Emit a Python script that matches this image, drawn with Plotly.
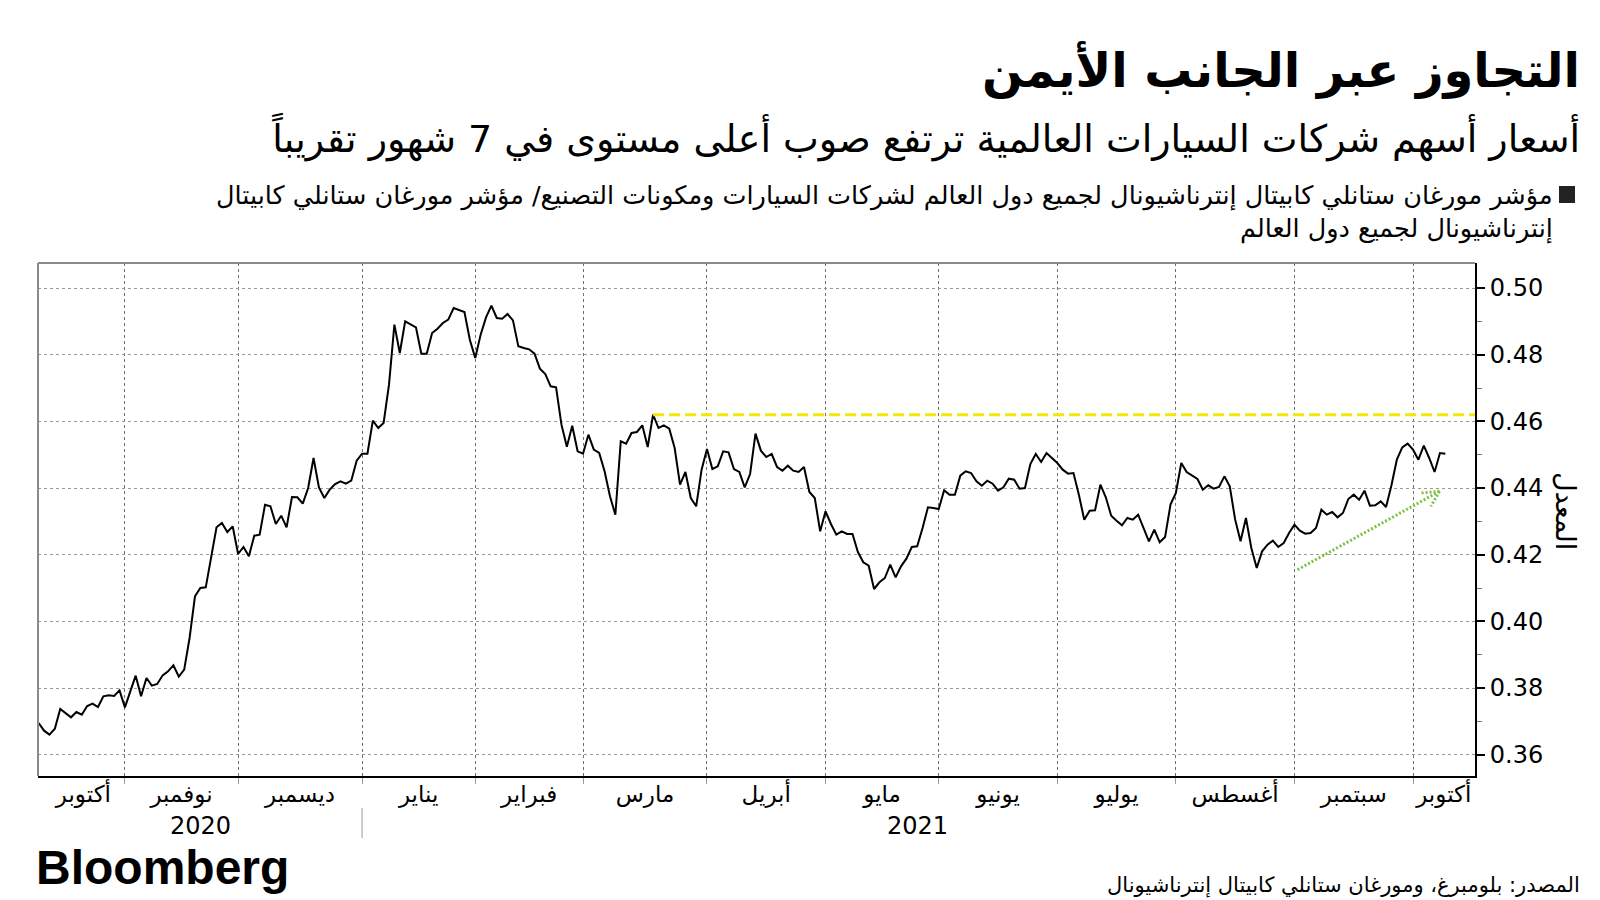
import plotly.graph_objects as go
import pandas as pd

# ---------------- data ----------------
START_DATE = "2020-10-09"  # first trading day shown; one value per weekday

ratio = [
    0.3695, 0.3672, 0.3660, 0.3678, 0.3737, 0.3725, 0.3712, 0.3728, 0.3720, 0.3746,
    0.3753, 0.3743, 0.3775, 0.3778, 0.3776, 0.3793, 0.3742, 0.3790, 0.3837, 0.3775,
    0.3830, 0.3807, 0.3812, 0.3838, 0.3850, 0.3868, 0.3834, 0.3855, 0.3950, 0.4075,
    0.4100, 0.4102, 0.4190, 0.4282, 0.4295, 0.4268, 0.4285, 0.4202, 0.4223, 0.4195,
    0.4257, 0.4260, 0.4350, 0.4345, 0.4292, 0.4317, 0.4282, 0.4373, 0.4372, 0.4353,
    0.4400, 0.4490, 0.4402, 0.4370, 0.4395, 0.4412, 0.4420, 0.4413, 0.4422, 0.4482,
    0.4503, 0.4503, 0.4602, 0.4580, 0.4595, 0.4710, 0.4890, 0.4805, 0.4900, 0.4892,
    0.4882, 0.4803, 0.4803, 0.4865, 0.4878, 0.4895, 0.4905, 0.4940, 0.4935, 0.4928,
    0.4845, 0.4790, 0.4860, 0.4912, 0.4947, 0.4910, 0.4908, 0.4922, 0.4903, 0.4825,
    0.4820, 0.4816, 0.4803, 0.4758, 0.4742, 0.4705, 0.4702, 0.4590, 0.4524, 0.4587,
    0.4510, 0.4503, 0.4560, 0.4515, 0.4505, 0.4450, 0.4375, 0.4320, 0.4540, 0.4533,
    0.4565, 0.4568, 0.4588, 0.4523, 0.4620, 0.4580, 0.4588, 0.4578, 0.4520, 0.4410,
    0.4448, 0.4370, 0.4345, 0.4455, 0.4517, 0.4457, 0.4465, 0.4510, 0.4507, 0.4457,
    0.4448, 0.4402, 0.4442, 0.4563, 0.4512, 0.4493, 0.4502, 0.4463, 0.4452, 0.4467,
    0.4452, 0.4448, 0.4463, 0.4388, 0.4370, 0.4270, 0.4330, 0.4292, 0.4260, 0.4270,
    0.4262, 0.4262, 0.4208, 0.4177, 0.4167, 0.4097, 0.4117, 0.4130, 0.4170, 0.4132,
    0.4165, 0.4188, 0.4223, 0.4225, 0.4280, 0.4342, 0.4340, 0.4337, 0.4393, 0.4380,
    0.4380, 0.4437, 0.4450, 0.4445, 0.4420, 0.4407, 0.4422, 0.4413, 0.4392, 0.4402,
    0.4428, 0.4425, 0.4398, 0.4400, 0.4472, 0.4502, 0.4478, 0.4505, 0.4490, 0.4475,
    0.4455, 0.4443, 0.4445, 0.4380, 0.4305, 0.4332, 0.4333, 0.4410, 0.4372, 0.4317,
    0.4302, 0.4288, 0.4310, 0.4305, 0.4320, 0.4280, 0.4240, 0.4275, 0.4237, 0.4253,
    0.4350, 0.4385, 0.4475, 0.4448, 0.4437, 0.4427, 0.4395, 0.4408, 0.4398, 0.4403,
    0.4435, 0.4405, 0.4305, 0.4240, 0.4310, 0.4220, 0.4160, 0.4210, 0.4230, 0.4242,
    0.4223, 0.4235, 0.4265, 0.4290, 0.4272, 0.4263, 0.4265, 0.4280, 0.4335, 0.4320,
    0.4328, 0.4312, 0.4325, 0.4367, 0.4380, 0.4365, 0.4392, 0.4347, 0.4348, 0.4360,
    0.4343, 0.4408, 0.4485, 0.4522, 0.4533, 0.4515, 0.4485, 0.4527, 0.4490, 0.4448,
    0.4505, 0.4503,
]

MONTH_STARTS = [
    "2020-11-02", "2020-12-01", "2021-01-01", "2021-02-01", "2021-03-01", "2021-04-01",
    "2021-05-03", "2021-06-01", "2021-07-01", "2021-08-02", "2021-09-01", "2021-10-01",
]
MONTH_LABEL_POS = [
    "2020-10-21 07:00", "2020-11-16 12:00", "2020-12-16 12:00", "2021-01-15 12:00",
    "2021-02-15", "2021-03-16 12:00", "2021-04-16", "2021-05-17 12:00", "2021-06-16",
    "2021-07-16", "2021-08-17", "2021-09-16", "2021-10-08 17:00",
]
MONTH_LABELS = [
    "أكتوبر", "نوفمبر", "ديسمبر", "يناير", "فبراير", "مارس", "أبريل",
    "مايو", "يونيو", "يوليو", "أغسطس", "سبتمبر", "أكتوبر",
]
YEAR_LABELS = ["2020", "2021"]
YEAR_SPLIT = "2021-01-01"
Y_TICKS = [0.36, 0.38, 0.40, 0.42, 0.44, 0.46, 0.48, 0.50]

RESISTANCE_LEVEL = 0.462
RESISTANCE_START = "2021-03-18"
TREND_START = ("2021-09-01 14:00", 0.4155)
TREND_END = ("2021-10-07 22:00", 0.4390)
TREND_HEAD_A = ("2021-10-04 12:00", 0.4385)
TREND_HEAD_B = ("2021-10-06 07:00", 0.4345)

TITLE = "التجاوز عبر الجانب الأيمن"
SUBTITLE = "أسعار أسهم شركات السيارات العالمية ترتفع صوب أعلى مستوى في 7 شهور تقريباً"
LEGEND_1 = "مؤشر مورغان ستانلي كابيتال إنترناشيونال لجميع دول العالم لشركات السيارات ومكونات التصنيع/ مؤشر مورغان ستانلي كابيتال"
LEGEND_2 = "إنترناشيونال لجميع دول العالم"
Y_TITLE = "المعدل"
SOURCE = "المصدر: بلومبرغ، ومورغان ستانلي كابيتال إنترناشيونال"

X_RANGE = ["2020-10-08 21:00", "2021-10-18 12:00"]
Y_RANGE = [0.3536, 0.5075]

# ---------------- layout helpers ----------------
W, H = 1600, 900
ML, MR, MT, MB = 30, 133, 255, 132
PW, PH = W - ML - MR, H - MT - MB


def px(x):
    return (x - ML) / PW


def py(y):
    return (H - MB - y) / PH


AR = "DejaVu Sans"
dates = pd.bdate_range(START_DATE, periods=len(ratio))

fig = go.Figure()
fig.add_trace(go.Scatter(
    x=dates, y=ratio, mode="lines",
    line=dict(color="#000000", width=2),
    showlegend=False, hoverinfo="skip",
))

GREEN = "#7DC242"
shapes = [
    # gray frame top / left
    dict(type="line", xref="paper", yref="paper", x0=0, x1=1, y0=1, y1=1,
         line=dict(color="#8a8a8a", width=2)),
    dict(type="line", xref="paper", yref="paper", x0=0, x1=0, y0=0, y1=1,
         line=dict(color="#8a8a8a", width=2)),
    # year separator
    dict(type="line", xref="x", yref="paper", x0=YEAR_SPLIT, x1=YEAR_SPLIT,
         y0=py(800), y1=py(830), line=dict(color="#9a9a9a", width=1)),
    # resistance line
    dict(type="line", xref="x", yref="y", x0=RESISTANCE_START, x1=X_RANGE[1],
         y0=RESISTANCE_LEVEL, y1=RESISTANCE_LEVEL,
         line=dict(color="#F4E800", width=3, dash="11px,5px")),
    # trend arrow
    dict(type="line", xref="x", yref="y", x0=TREND_START[0], y0=TREND_START[1],
         x1=TREND_END[0], y1=TREND_END[1],
         line=dict(color=GREEN, width=3, dash="2px,2px")),
    dict(type="line", xref="x", yref="y", x0=TREND_END[0], y0=TREND_END[1],
         x1=TREND_HEAD_A[0], y1=TREND_HEAD_A[1],
         line=dict(color=GREEN, width=3, dash="2px,2px")),
    dict(type="line", xref="x", yref="y", x0=TREND_END[0], y0=TREND_END[1],
         x1=TREND_HEAD_B[0], y1=TREND_HEAD_B[1],
         line=dict(color=GREEN, width=3, dash="2px,2px")),
    # legend square
    dict(type="rect", xref="paper", yref="paper", x0=px(1551), x1=px(1567),
         y0=py(195), y1=py(178), fillcolor="#222222", line=dict(width=0)),
]

annotations = [
    dict(text=TITLE, x=px(1574), y=py(62), xanchor="right", yanchor="middle",
         font=dict(family=AR, size=48, color="#000000", weight=700)),
    dict(text=SUBTITLE, x=px(1574), y=py(129), xanchor="right", yanchor="middle",
         font=dict(family=AR, size=38, color="#000000")),
    dict(text=LEGEND_1, x=px(1547), y=py(187), xanchor="right", yanchor="middle",
         font=dict(family=AR, size=25.5, color="#000000")),
    dict(text=LEGEND_2, x=px(1547), y=py(220), xanchor="right", yanchor="middle",
         font=dict(family=AR, size=25.5, color="#000000")),
    dict(text=Y_TITLE, x=px(1558), y=py(503), xanchor="center", yanchor="middle",
         textangle=90, font=dict(family=AR, size=27, color="#000000")),
    dict(text=YEAR_LABELS[0], x=px(192), y=py(818), xanchor="center", yanchor="middle",
         font=dict(family=AR, size=24, color="#000000")),
    dict(text=YEAR_LABELS[1], x=px(910), y=py(818), xanchor="center", yanchor="middle",
         font=dict(family=AR, size=24, color="#000000")),
    dict(text="Bloomberg", x=px(26), y=py(859), xanchor="left", yanchor="middle",
         font=dict(family="Liberation Sans", size=48, color="#000000", weight=700)),
    dict(text=SOURCE, x=px(1574), y=py(877), xanchor="right", yanchor="middle",
         font=dict(family=AR, size=21, color="#000000")),
]
for a in annotations:
    a.update(xref="paper", yref="paper", showarrow=False)

fig.update_layout(
    width=W, height=H,
    margin=dict(l=ML, r=MR, t=MT, b=MB, pad=0),
    paper_bgcolor="#ffffff", plot_bgcolor="#ffffff",
    shapes=shapes, annotations=annotations,
    showlegend=False,
    xaxis=dict(
        type="date", range=X_RANGE,
        rangebreaks=[dict(bounds=["sat", "mon"])],
        tickmode="array", tickvals=MONTH_LABEL_POS, ticktext=MONTH_LABELS,
        ticks="", showgrid=False, zeroline=False,
        showline=True, linecolor="#000000", linewidth=2,
        tickfont=dict(family=AR, size=23, color="#000000"),
        ticklabelstandoff=-4,
        minor=dict(tickmode="array", tickvals=MONTH_STARTS, showgrid=True,
                   gridcolor="#6f6f6f", griddash="dot", gridwidth=1,
                   ticks="outside", ticklen=6, tickcolor="#9a9a9a", tickwidth=1),
    ),
    yaxis=dict(
        side="right", range=Y_RANGE,
        tickmode="array", tickvals=Y_TICKS, tickformat=".2f",
        ticks="outside", ticklen=8, tickwidth=2, tickcolor="#000000",
        showline=True, linecolor="#000000", linewidth=2,
        showgrid=True, gridcolor="#9a9a9a", griddash="dot", gridwidth=1,
        zeroline=False,
        tickfont=dict(family=AR, size=24, color="#000000"),
        minor=dict(dtick=0.01, tick0=0.35, ticks="outside", ticklen=5,
                   tickcolor="#777777", tickwidth=1, showgrid=False),
    ),
)

fig.write_html("out.html")
